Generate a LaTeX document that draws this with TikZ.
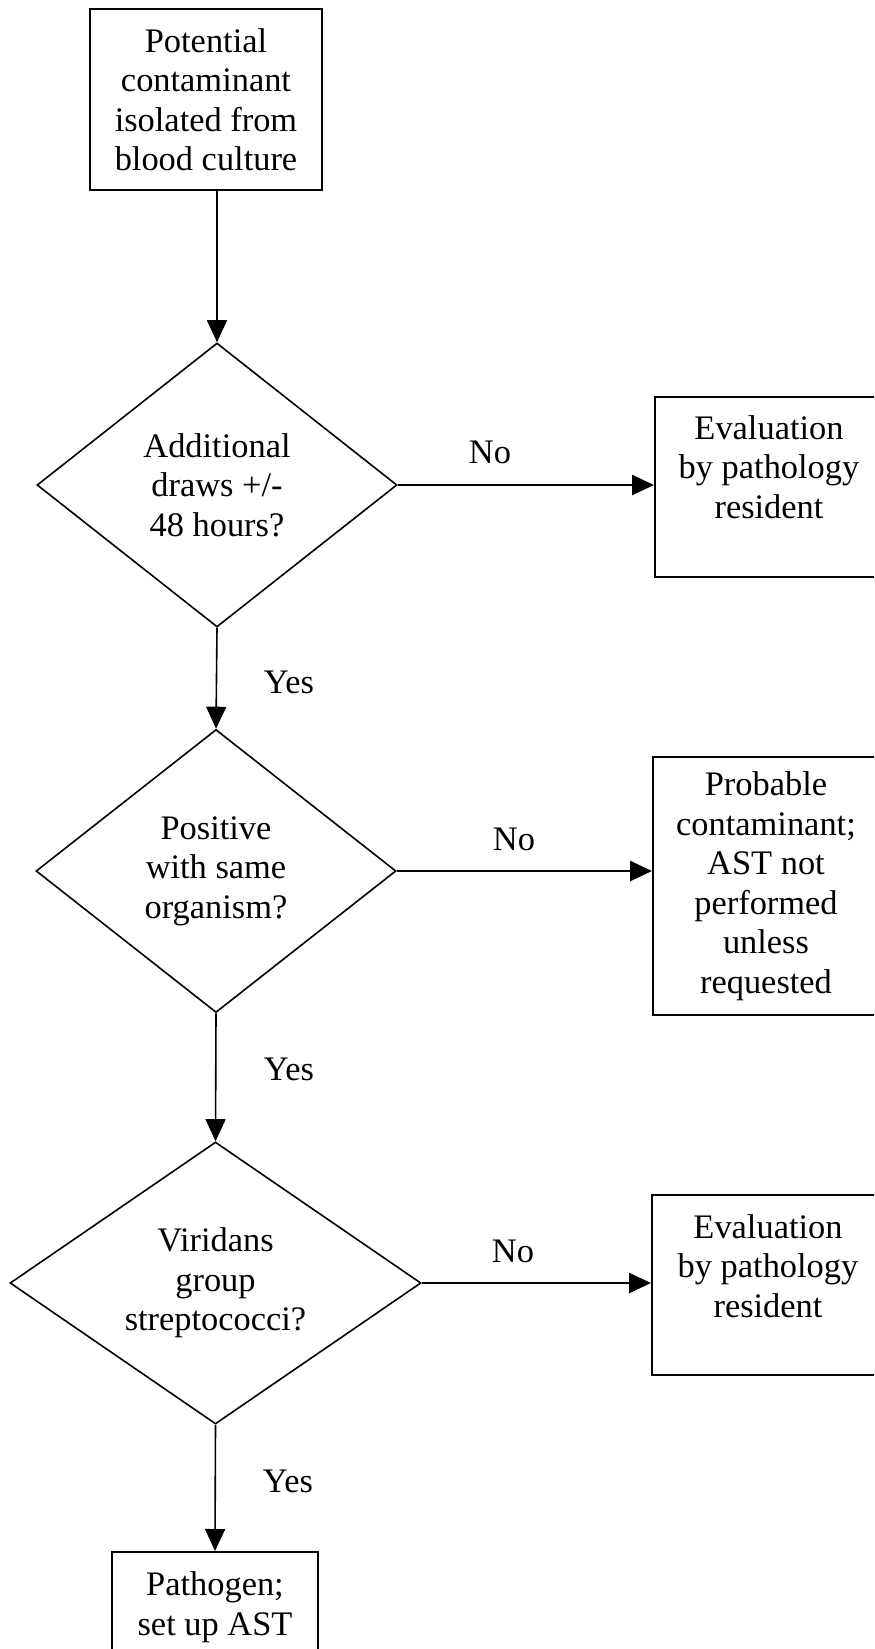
\documentclass[tikz,border=0pt]{standalone}
\usepackage{fontspec}
\setmainfont{Liberation Serif}
\usetikzlibrary{shapes.geometric,arrows.meta}
\begin{document}
\begin{tikzpicture}[x=0.5pt,y=-0.5pt,
  txt/.style={font=\fontsize{17.2}{19.75}\selectfont, align=center, inner sep=0pt},
  boxnode/.style={draw, line width=1pt, rectangle, inner sep=0pt, txt},
  decision/.style={draw, line width=0.8pt, diamond, aspect=1.3, inner sep=0pt, txt},
  vline/.style={line width=0.8pt, -{Triangle[length=11pt,width=10pt]}},
  hline/.style={line width=1.3pt, -{Triangle[length=11pt,width=10pt]}},
  lbl/.style={font=\fontsize{17.2}{19.75}\selectfont, inner sep=0pt, anchor=base}]
\fill[white] (0,0) rectangle (874,1649);
\clip (0,0) rectangle (874,1649);

% boxes and decisions
\node[boxnode, minimum width=116pt, minimum height=90.5pt] (start) at (206,99.5)
  {Potential\\contaminant\\isolated from\\blood culture};
\node[decision, minimum width=180pt, minimum height=142pt] (d1) at (217,485)
  {Additional\\draws +/-\\48 hours?};
\node[boxnode, minimum width=114.5pt, minimum height=90pt] (ev1) at (769.5,487) {};
\node[txt] (ev1t) at (769,467) {Evaluation\\by pathology\\resident};

\node[decision, minimum width=180pt, minimum height=141.5pt] (d2) at (216,871)
  {Positive\\with same\\organism?};
\node[boxnode, minimum width=113pt, minimum height=129pt] (prob) at (766,886)
  {Probable\\contaminant;\\AST not\\performed\\unless\\requested};

\node[decision, minimum width=205.5pt, minimum height=141pt] (d3) at (215.5,1283)
  {Viridans\\group\\streptococci?};
\node[boxnode, minimum width=116pt, minimum height=90pt] (ev2) at (768,1285) {};
\node[txt] (ev2t) at (768,1266) {Evaluation\\by pathology\\resident};

\node[boxnode, minimum width=103pt, minimum height=55pt] (patho) at (215,1607)
  {Pathogen;\\set up AST};

% connectors
\draw[vline] (start.south -| d1.north) -- (d1.north);
\draw[hline] (d1.east) -- (d1.east -| ev1.west);
\draw[vline] (d1.south) -- (d2.north);
\draw[hline] (d2.east) -- (d2.east -| prob.west);
\draw[vline] (d2.south) -- (d3.north);
\draw[hline] (d3.east) -- (d3.east -| ev2.west);
\draw[vline] (d3.south) -- (patho.north);

% labels
\node[lbl] (no1) at (490,463) {No};
\node[lbl] (yes1) at (289,693) {Yes};
\node[lbl] (no2) at (514,850) {No};
\node[lbl] (yes2) at (289,1080) {Yes};
\node[lbl] (no3) at (513,1262) {No};
\node[lbl] (yes3) at (288,1492) {Yes};
\end{tikzpicture}
\end{document}
